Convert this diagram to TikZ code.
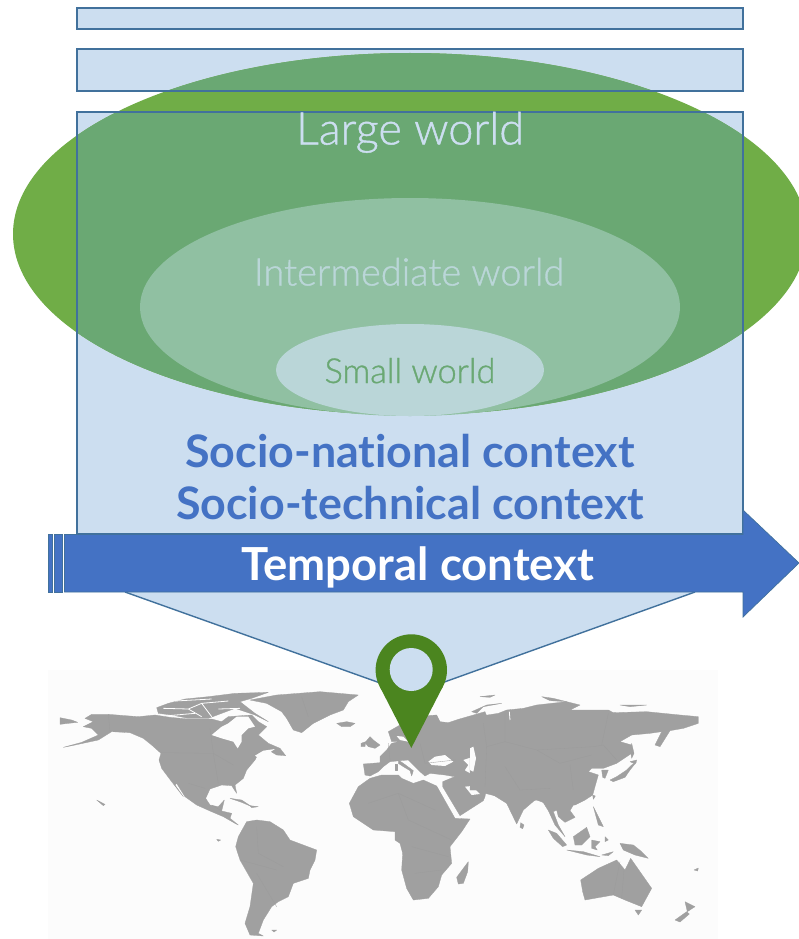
\documentclass[tikz,border=0pt]{standalone}
\usepackage{fontspec}
\setmainfont[Ligatures=NoCommon]{Lato}
\newfontfamily\lightfont[FakeBold=1.0,Ligatures=NoCommon]{Lato Light}
\definecolor{boxfill}{HTML}{CCDEF0}
\definecolor{boxline}{HTML}{41719C}
\definecolor{greenout}{HTML}{70AD47}
\definecolor{greenin}{HTML}{6AA873}
\definecolor{greenmid}{HTML}{90C0A2}
\definecolor{greensmall}{HTML}{BAD6D8}
\definecolor{arrowblue}{HTML}{4472C4}
\definecolor{pingreen}{HTML}{4B851F}
\definecolor{landgray}{HTML}{A0A0A0}
\definecolor{bordergray}{HTML}{9B9B9B}
\tikzset{
  boxfilled/.style={fill=boxfill},
  boxedge/.style={draw=boxline,line width=1.4pt},
  bluearrow/.style={fill=arrowblue,draw=boxline,line width=0.7pt,line join=miter},
  land/.style={fill=landgray,draw=landgray,line width=0.3pt,line join=round},
  sea/.style={fill=white!99!black,draw=none},
  countryline/.style={draw=bordergray,line width=0.3pt},
  lbl/.style={anchor=base,inner sep=0pt,outer sep=0pt},
  cropA/.style={shift={(55,685)},x=0.33333pt,y=-0.33333pt},
  cropB/.style={shift={(345,700)},x=0.33333pt,y=-0.33333pt},
  cropC/.style={shift={(470,690)},x=0.33333pt,y=-0.33333pt},
  cropD/.style={shift={(520,790)},x=0.33333pt,y=-0.33333pt},
  cropL/.style={shift={(0,640)},x=0.33333pt,y=-0.33333pt},
  cropR/.style={shift={(400,640)},x=0.33333pt,y=-0.33333pt}
}
\begin{document}
\begin{tikzpicture}[x=1pt,y=-1pt]
\path[use as bounding box,clip] (0,0) rectangle (799,939);
\fill[white] (0,0) rectangle (799,939);
\fill[fill=white!99!black] (48,670) rectangle (718,939);
% North America
\begin{scope}[cropA]
\path[land] (90,100)--(110,88)--(160,88)--(250,95)--(300,90)--(345,97)--(400,102)--(470,102)--(500,110)--(520,95)--(560,92)--(590,90)--(610,110)--(635,125)--(610,150)--(640,175)--(675,190)--(692,212)--(665,210)--(640,195)--(610,205)--(600,225)--(575,255)--(565,280)--(540,300)--(545,325)--(530,302)--(500,300)--(465,312)--(452,340)--(465,360)--(490,365)--(508,345)--(500,378)--(530,385)--(525,400)--(550,420)--(540,415)--(505,395)--(465,378)--(425,360)--(390,335)--(365,295)--(360,300)--(385,335)--(350,290)--(320,250)--(312,225)--(318,205)--(290,180)--(265,160)--(225,143)--(170,140)--(130,165)--(60,180)--(25,187)--(80,172)--(130,150)--(110,130)--(85,125)--(115,110)--cycle;
\path[sea] (470,150)--(500,125)--(520,115)--(545,95)--(580,95)--(600,125)--(580,130)--(560,150)--(560,170)--(548,190)--(535,170)--(500,160)--cycle;
\path[sea] (600,212)--(625,197)--(660,192)--(640,205)--(615,222)--cycle;
\path[land] (15,98)--(50,105)--(68,112)--(40,115)--(15,118)--cycle;
\path[land] (305,68)--(340,55)--(390,42)--(460,35)--(540,25)--(640,22)--(590,40)--(555,50)--(600,85)--(640,110)--(600,90)--(540,70)--(500,85)--(460,100)--(400,100)--(350,90)--(310,85)--cycle;
\draw[white,line width=0.8pt] (325,70)--(400,72)--(440,55)--(520,48) (400,72)--(440,95) (440,55)--(470,95) (360,48)--(470,42) (490,72)--(555,70) (340,92)--(420,85);
\path[land] (525,340)--(560,345)--(590,365)--(560,352)--cycle;
\path[land] (585,362)--(610,365)--(590,368)--cycle;
\path[land] (125,345)--(150,358)--(145,362)--cycle;
\path[countryline] (160,88)--(165,140) (318,203)--(475,205)--(535,240) (465,130)--(475,205) (475,205)--(490,295) (400,295)--(450,310) (500,378)--(470,360);
\end{scope}
% Greenland, Iceland, South America
\begin{scope}[cropL]
\path[land] (750,180)--(830,165)--(960,155)--(1075,165)--(1045,185)--(1030,210)--(990,225)--(940,250)--(905,278)--(880,270)--(860,235)--(845,215)--(800,190)--cycle;
\path[land] (1010,250)--(1040,245)--(1065,250)--(1050,260)--(1025,260)--cycle;
\path[land] (740,545)--(770,540)--(810,545)--(850,570)--(870,600)--(950,630)--(945,660)--(930,690)--(925,715)--(880,730)--(865,770)--(835,785)--(815,800)--(790,840)--(775,880)--(790,888)--(750,885)--(735,850)--(750,800)--(760,730)--(720,660)--(707,620)--(715,590)--cycle;
\path[land] (815,870)--(830,870)--(822,876)--cycle;
\path[land] (650,598)--(662,600)--(655,604)--cycle;
\path[countryline] (770,560)--(775,640)--(850,680) (720,660)--(830,690) (770,700)--(830,800) (905,170)--(925,230);
\end{scope}
% Europe, Africa, Middle East
\begin{scope}[cropB]
\path[land] (55,192)--(105,188)--(105,170)--(125,150)--(140,130)--(160,125)--(140,125)--(130,95)--(165,75)--(200,50)--(275,45)--(285,65)--(310,68)--(340,58)--(420,35)--(430,60)--(430,200)--(340,232)--(300,225)--(255,220)--(240,228)--(225,215)--(205,195)--(190,180)--(165,182)--(135,185)--(115,200)--(100,215)--(75,228)--(60,225)--cycle;
\path[land] (160,180)--(175,190)--(205,212)--(200,228)--(195,212)--(175,200)--(160,190)--cycle;
\path[land] (150,192)--(156,192)--(156,210)--(150,210)--cycle;
\path[sea] (155,108)--(175,110)--(190,125)--(165,120)--cycle;
\path[sea] (250,185)--(270,170)--(300,165)--(325,185)--(300,198)--(260,195)--cycle;
\path[sea] (355,180)--(385,170)--(390,205)--(375,225)--(360,210)--(370,195)--cycle;
\path[land] (60,128)--(75,110)--(85,120)--(105,135)--(90,145)--(70,140)--cycle;
\path[land] (48,130)--(62,125)--(60,140)--(48,140)--cycle;
\path[land] (75,235)--(110,225)--(160,225)--(170,235)--(205,250)--(235,240)--(275,258)--(330,355)--(375,357)--(350,395)--(315,440)--(320,490)--(290,525)--(280,560)--(250,595)--(205,600)--(185,565)--(170,510)--(173,460)--(165,430)--(150,420)--(150,395)--(85,390)--(25,350)--(13,310)--(40,260)--cycle;
\path[countryline] (70,310)--(160,280)--(190,360) (160,280)--(270,330) (190,360)--(320,420) (200,440)--(310,470) (210,520)--(290,510) (130,130)--(135,180) (225,130)--(240,190)--(330,180);
\end{scope}
\begin{scope}[cropR]
\path[land] (128,425)--(200,395)--(262,430)--(255,470)--(250,482)--(180,527)--(128,440)--cycle;
\path[sea] (195,440)--(215,438)--(240,462)--(215,465)--cycle;
\path[land] (255,430)--(280,465)--(320,490)--(350,552)--(370,510)--(405,480)--(430,480)--(455,505)--(430,400)--cycle;
\path[land] (362,548)--(372,555)--(368,566)--(360,562)--cycle;
\path[land] (170,712)--(190,685)--(205,665)--(203,695)--(190,730)--(175,732)--cycle;
\path[land] (825,840)--(860,815)--(868,822)--(840,846)--cycle;
\path[land] (855,785)--(885,800)--(862,815)--cycle;
\path[land] (882,690)--(895,684)--(893,693)--cycle;
\end{scope}
% Asia
\begin{scope}[cropC]
\path[land] (0,85)--(20,80)--(85,70)--(110,60)--(160,55)--(200,45)--(290,35)--(330,45)--(300,60)--(415,60)--(430,68)--(530,65)--(630,75)--(685,80)--(685,100)--(640,115)--(600,122)--(570,170)--(555,165)--(575,125)--(540,130)--(485,135)--(450,155)--(485,165)--(485,190)--(440,220)--(400,235)--(365,235)--(355,245)--(385,255)--(375,290)--(368,315)--(345,330)--(315,345)--(240,345)--(200,330)--(150,335)--(85,320)--(45,310)--(25,300)--(0,300)--cycle;
\path[sea] (10,170)--(18,205)--(10,245)--(0,240)--(0,175)--cycle;
\draw[white,line width=0.8pt] (118,65)--(120,90);
\path[land] (395,240)--(415,240)--(405,265)--(398,262)--cycle;
\path[land] (420,270)--(440,260)--(470,240)--(485,225)--(500,215)--(480,240)--(465,262)--(430,275)--cycle;
\path[land] (480,215)--(500,210)--(495,222)--cycle;
\path[land] (485,160)--(492,190)--(485,205)--(482,185)--cycle;
\path[land] (368,315)--(376,318)--(370,328)--cycle;
\path[land] (5,65)--(50,45)--(95,40)--(40,50)--(20,70)--cycle;
\path[land] (30,20)--(75,15)--(60,22)--cycle;
\path[land] (215,20)--(250,25)--(290,35)--(240,32)--cycle;
\path[land] (450,45)--(530,45)--(480,50)--cycle;
\path[countryline] (415,70)--(395,165) (300,225)--(315,340) (40,100)--(50,170)--(105,155)--(200,180)--(370,170)--(400,165)--(440,210) (200,180)--(270,220)--(365,195) (105,70)--(105,155) (50,170)--(45,290) (105,230)--(150,300)--(240,295);
\end{scope}
% South-East Asia, Australia
\begin{scope}[cropD]
\path[land] (45,0)--(220,0)--(218,10)--(190,30)--(160,45)--(150,62)--(165,82)--(135,97)--(115,80)--(110,60)--(100,65)--(115,105)--(135,140)--(105,105)--(85,62)--(65,30)--(50,28)--cycle;
\path[land] (85,120)--(110,130)--(140,165)--(128,170)--(100,145)--cycle;
\path[land] (140,180)--(190,185)--(240,200)--(200,195)--cycle;
\path[land] (160,140)--(200,112)--(210,140)--(185,165)--(165,165)--cycle;
\path[land] (215,150)--(240,155)--(225,170)--(232,180)--(215,175)--cycle;
\path[land] (220,50)--(230,70)--(250,110)--(235,105)--cycle;
\path[land] (300,160)--(340,165)--(365,185)--(385,205)--(345,195)--(310,180)--cycle;
\path[land] (255,140)--(265,150)--(255,155)--cycle;
\path[land] (245,195)--(280,185)--(265,197)--cycle;
\path[land] (182,270)--(235,235)--(290,210)--(315,240)--(332,205)--(395,295)--(365,350)--(315,330)--(280,315)--(195,330)--(188,305)--cycle;
\path[land] (345,360)--(365,360)--(355,375)--cycle;
\path[countryline] (300,215)--(280,315) (312,240)--(305,325);
\end{scope}
% boxes
\path[boxfilled] (77,8) rectangle (743,29);
\path[boxfilled] (77,49) rectangle (743,91);
\path[boxfilled] (77,112) rectangle (743,534);
\path[boxfilled] (125,592)--(695,592)--(411,694)--cycle;
\fill[greenout] (410,234) ellipse [x radius=397pt,y radius=181pt];
\begin{scope}
\clip (77,49) rectangle (743,91) (77,112) rectangle (743,534);
\fill[greenin] (410,234) ellipse [x radius=397pt,y radius=181pt];
\end{scope}
\fill[greenmid] (410,307) ellipse [x radius=270pt,y radius=109pt];
\fill[greensmall] (410,370) ellipse [x radius=134pt,y radius=46pt];
\path[boxedge] (77,8) rectangle (743,29);
\path[boxedge] (77,49) rectangle (743,91);
\path[boxedge] (77,112) rectangle (743,534);
\path[boxedge] (125,592)--(411,694)--(695,592);
% labels
\node[lbl,text=boxfill,font=\lightfont\fontsize{45}{45}\selectfont] (large) at (410,144.5) {Large world};
\node[lbl,text=greensmall,font=\lightfont\fontsize{38}{38}\selectfont] (inter) at (409,285.5) {Intermediate world};
\node[lbl,text=greenin,font=\lightfont\fontsize{34.4}{34.4}\selectfont] (small) at (410,383) {Small world};
\node[lbl,text=arrowblue,font=\bfseries\fontsize{44.8}{44.8}\selectfont] (national) at (410,467) {Socio-national context};
\node[lbl,text=arrowblue,font=\bfseries\fontsize{44.8}{44.8}\selectfont] (technical) at (410,519.5) {Socio-technical context};
% temporal arrow
\path[bluearrow] (48,534.5) rectangle (52.5,592);
\path[bluearrow] (54.5,534.5) rectangle (62.5,592);
\path[bluearrow] (64.5,534.5)--(743,534.5)--(743,510)--(799,563)--(743,617)--(743,592)--(64.5,592)--cycle;
\node[lbl,text=white,font=\bfseries\fontsize{45.5}{45.5}\selectfont] (temporal) at (418,580.5) {Temporal context};
% pin
\fill[pingreen] (411.3,670) circle [radius=35.7pt];
\fill[pingreen] (379.6,686.3)--(411.3,748)--(443,686.3)--cycle;
\fill[boxfill] (411.2,669.5) circle [radius=21.5pt];
\end{tikzpicture}
\end{document}
